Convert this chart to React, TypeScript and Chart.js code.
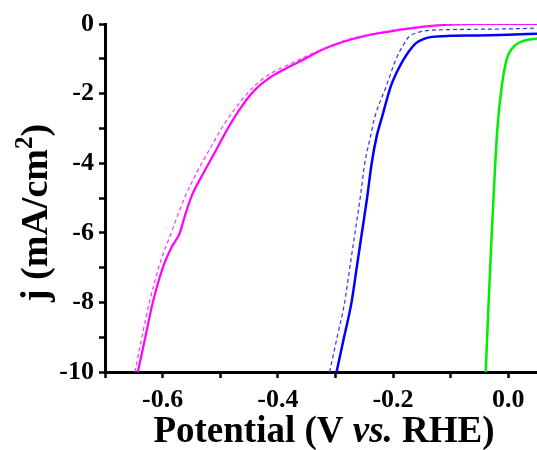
import React, { useEffect, useRef } from "react";
import { Chart, registerables } from "chart.js";

Chart.register(...registerables);

// ---- data (potential V vs RHE, current density mA/cm2) ----
const magentaSolidX = [-0.643, -0.63, -0.617, -0.599, -0.584, -0.57, -0.562, -0.55, -0.528, -0.507, -0.485, -0.462, -0.44, -0.41, -0.385, -0.362, -0.32, -0.276, -0.23, -0.189, -0.15, -0.103, -0.05, 0.0, 0.05];
const magentaSolidY = [-10, -9, -8, -6.97, -6.4, -6.0, -5.55, -4.96, -4.25, -3.62, -2.95, -2.35, -1.9, -1.5, -1.27, -1.08, -0.72, -0.46, -0.28, -0.17, -0.08, -0.02, 0, 0, 0];

const magentaDashX = [-0.648, -0.636, -0.623, -0.605, -0.585, -0.562, -0.54, -0.515, -0.492, -0.468, -0.445, -0.415, -0.388, -0.364, -0.32, -0.278, -0.23, -0.19, -0.15, -0.1, -0.05, 0.0, 0.05];
const magentaDashY = [-10, -9, -8, -6.9, -6.0, -5.0, -4.25, -3.5, -2.85, -2.3, -1.85, -1.45, -1.22, -1.03, -0.7, -0.44, -0.26, -0.15, -0.07, -0.02, 0, 0, 0];

const blueSolidX = [-0.298, -0.285, -0.272, -0.263, -0.254, -0.245, -0.237, -0.228, -0.219, -0.204, -0.189, -0.175, -0.16, -0.145, -0.132, -0.1, -0.05, 0.0, 0.05];
const blueSolidY = [-10, -9, -8, -7, -6, -5, -4, -3.2, -2.67, -1.8, -1.24, -0.85, -0.55, -0.42, -0.37, -0.34, -0.33, -0.31, -0.28];

const blueDashX = [-0.31, -0.297, -0.284, -0.275, -0.266, -0.257, -0.249, -0.24, -0.232, -0.212, -0.194, -0.182, -0.172, -0.16, -0.145, -0.1, -0.05, 0.0, 0.05];
const blueDashY = [-10, -9, -8, -7, -6, -5, -4, -3.3, -2.7, -1.8, -0.98, -0.6, -0.36, -0.26, -0.2, -0.16, -0.15, -0.14, -0.12];

const greenX = [-0.039, -0.034, -0.0285, -0.024, -0.019, -0.0113, -0.0044, 0.0013, 0.0129, 0.027, 0.044, 0.05];
const greenY = [-10, -8, -6, -4.5, -3.05, -1.8, -1.13, -0.84, -0.6, -0.48, -0.43, -0.42];

const xTickValues = [-0.7, -0.6, -0.5, -0.4, -0.3, -0.2, -0.1, 0.0];
const xTickLabels = ["", "-0.6", "", "-0.4", "", "-0.2", "", "0.0"];
const yTickValues = [-10, -9, -8, -7, -6, -5, -4, -3, -2, -1, 0];
const yTickLabels = ["-10", "", "-8", "", "-6", "", "-4", "", "-2", "", "0"];

const xTitleParts: [string, boolean][] = [["Potential (V ", false], ["vs.", true], [" RHE)", false]];
const yTitleMain = "j (mA/cm";
const yTitleSup = "2";
const yTitleEnd = ")";

const zip = (xs: number[], ys: number[]) => xs.map((x, i) => ({ x, y: ys[i] }));

const FONT = '"Liberation Serif", "Times New Roman", serif';

const titlePlugin = {
  id: "customTitles",
  afterDraw(chart: any) {
    const ctx = chart.ctx as CanvasRenderingContext2D;
    ctx.save();
    ctx.fillStyle = "#000";
    ctx.textBaseline = "alphabetic";
    ctx.textAlign = "left";
    // x title
    const size = 37;
    const fonts = xTitleParts.map(([, it]) => `${it ? "italic " : ""}bold ${size}px ${FONT}`);
    let total = 0;
    const widths = xTitleParts.map(([t], i) => {
      ctx.font = fonts[i];
      const w = ctx.measureText(t).width;
      total += w;
      return w;
    });
    let x = 324 - total / 2;
    xTitleParts.forEach(([t], i) => {
      ctx.font = fonts[i];
      ctx.fillText(t, x, 442);
      x += widths[i];
    });
    // y title
    const ys = 38;
    const supSize = 25;
    ctx.translate(47, 213);
    ctx.rotate(-Math.PI / 2);
    ctx.font = `bold ${ys}px ${FONT}`;
    const w1 = ctx.measureText(yTitleMain).width;
    const w3 = ctx.measureText(yTitleEnd).width;
    ctx.font = `bold ${supSize}px ${FONT}`;
    const w2 = ctx.measureText(yTitleSup).width;
    const tot = w1 + w2 + w3;
    let px = -tot / 2;
    ctx.font = `bold ${ys}px ${FONT}`;
    ctx.fillText(yTitleMain, px, 0);
    px += w1;
    ctx.font = `bold ${supSize}px ${FONT}`;
    ctx.fillText(yTitleSup, px, -15);
    px += w2;
    ctx.font = `bold ${ys}px ${FONT}`;
    ctx.fillText(yTitleEnd, px, 0);
    ctx.restore();
  },
};

export default function App() {
  const ref = useRef<HTMLCanvasElement | null>(null);
  useEffect(() => {
    if (!ref.current) return;
    const mk = (data: { x: number; y: number }[], color: string, width: number, dash: number[] = []) => ({
      data,
      borderColor: color,
      backgroundColor: color,
      borderWidth: width,
      borderDash: dash,
      pointRadius: 0,
      fill: false,
      cubicInterpolationMode: "monotone" as const,
    });
    const chart = new Chart(ref.current, {
      type: "line",
      data: {
        datasets: [
          mk(zip(magentaDashX, magentaDashY), "#ff33ff", 1.2, [4, 3]),
          mk(zip(magentaSolidX, magentaSolidY), "#ff00ff", 2.2),
          mk(zip(blueDashX, blueDashY), "#3030ff", 1.2, [4, 3]),
          mk(zip(blueSolidX, blueSolidY), "#0000ff", 2.5),
          mk(zip(greenX, greenY), "#00ee00", 2.5),
        ],
      },
      options: {
        animation: false,
        responsive: true,
        maintainAspectRatio: false,
        layout: { padding: { top: 24, right: 0, bottom: 0, left: 0 } },
        plugins: { legend: { display: false }, tooltip: { enabled: false } },
        scales: {
          x: {
            type: "linear",
            min: -0.7,
            max: 0.05,
            afterBuildTicks: (s: any) => {
              s.ticks = xTickValues.map((v) => ({ value: v }));
            },
            afterFit: (s: any) => {
              s.height = 78;
            },
            ticks: {
              autoSkip: false,
              maxRotation: 0,
              padding: 7,
              color: "#000",
              font: { family: FONT, weight: "bold", size: 26 },
              callback: (_v: any, i: number) => xTickLabels[i],
            },
            grid: { drawOnChartArea: false, drawTicks: true, tickLength: 6, tickColor: "#000", tickWidth: 2.5 },
            border: { display: true, color: "#000", width: 3 },
          },
          y: {
            type: "linear",
            min: -10,
            max: 0,
            afterBuildTicks: (s: any) => {
              s.ticks = yTickValues.map((v) => ({ value: v }));
            },
            afterFit: (s: any) => {
              s.width = 105;
            },
            ticks: {
              autoSkip: false,
              padding: 5,
              color: "#000",
              font: { family: FONT, weight: "bold", size: 26 },
              callback: (_v: any, i: number) => yTickLabels[i],
            },
            grid: { drawOnChartArea: false, drawTicks: true, tickLength: 6, tickColor: "#000", tickWidth: 2.5 },
            border: { display: true, color: "#000", width: 3 },
          },
        },
      },
      plugins: [titlePlugin],
    });
    return () => chart.destroy();
  }, []);
  return (
    <div style={{ position: "absolute", left: 0, top: 0, width: 537, height: 450, background: "#fff" }}>
      <canvas ref={ref} />
    </div>
  );
}
